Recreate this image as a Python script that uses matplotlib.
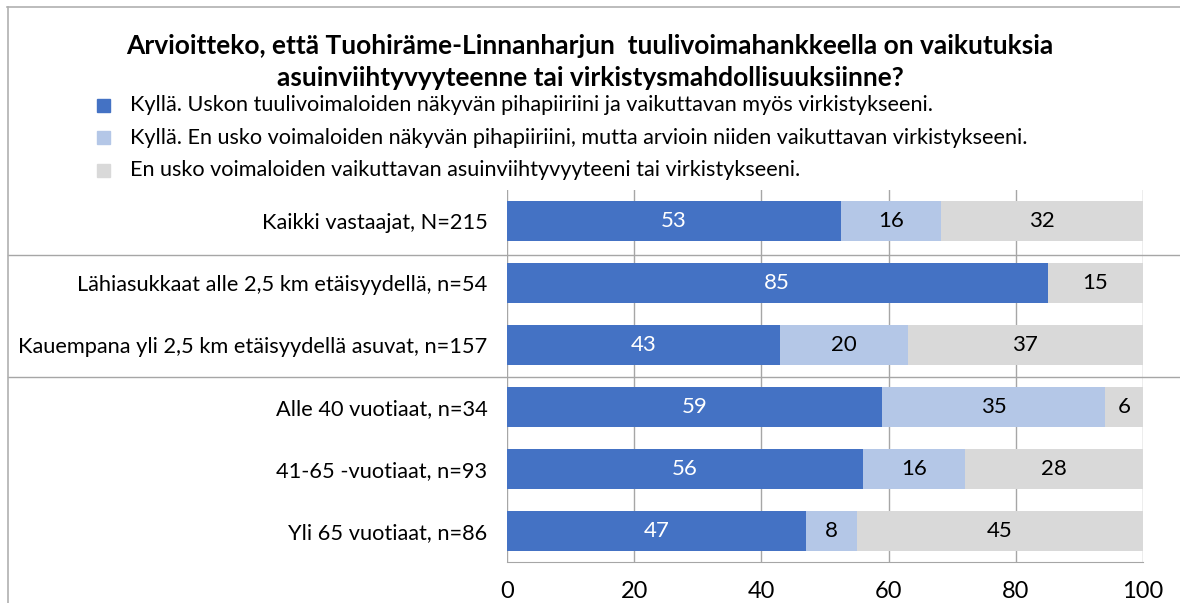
import matplotlib
matplotlib.use("Agg")
import matplotlib.pyplot as plt
from matplotlib.lines import Line2D
import numpy as np

plt.rcParams['font.family'] = ['Lato', 'DejaVu Sans']

categories = [
    "Kaikki vastaajat, N=215",
    "Lähiasukkaat alle 2,5 km etäisyydellä, n=54",
    "Kauempana yli 2,5 km etäisyydellä asuvat, n=157",
    "Alle 40 vuotiaat, n=34",
    "41-65 -vuotiaat, n=93",
    "Yli 65 vuotiaat, n=86",
]
series_names = [
    "Kyllä. Uskon tuulivoimaloiden näkyvän pihapiiriini ja vaikuttavan myös virkistykseeni.",
    "Kyllä. En usko voimaloiden näkyvän pihapiiriini, mutta arvioin niiden vaikuttavan virkistykseeni.",
    "En usko voimaloiden vaikuttavan asuinviihtyvyyteeni tai virkistykseeni.",
]
yes_visible = [53, 85, 43, 59, 56, 47]
yes_not_visible = [16, 0, 20, 35, 16, 8]
no_effect = [32, 15, 37, 6, 28, 45]
colors = ["#4472C4", "#B4C7E7", "#D9D9D9"]
text_colors = ["white", "black", "black"]
title = "Arvioitteko, että Tuohiräme-Linnanharjun  tuulivoimahankkeella on vaikutuksia\nasuinviihtyvyyteenne tai virkistysmahdollisuuksiinne?"
xticks = [0, 20, 40, 60, 80, 100]

W, H = 1180, 603
fig = plt.figure(figsize=(W / 100, H / 100), dpi=100)
ax = fig.add_axes([507 / W, 1 - 562 / H, (1143 - 507) / W, (562 - 190) / H])

data = np.array([yes_visible, yes_not_visible, no_effect], dtype=float)
totals = data.sum(axis=0)
norm = data / totals * 100
y = np.arange(len(categories))
left = np.zeros(len(categories))
for i in range(3):
    bars = ax.barh(y, norm[i], left=left, height=0.64, color=colors[i], zorder=3)
    for j, b in enumerate(bars):
        if data[i, j] > 0:
            ax.text(left[j] + norm[i, j] / 2, y[j], f"{int(data[i, j])}",
                    ha="center", va="center", fontsize=16, color=text_colors[i], zorder=4)
    left += norm[i]

ax.set_ylim(len(categories) - 0.5, -0.5)
ax.set_xlim(0, 100)
ax.set_xticks(xticks)
ax.set_xticklabels([str(t) for t in xticks], fontsize=17)
ax.tick_params(axis="x", length=0, pad=14)
ax.set_yticks(y)
ax.set_yticklabels(categories, fontsize=15.7)
ax.tick_params(axis="y", length=0, pad=14)
ax.grid(axis="x", color="#a6a6a6", linewidth=1, zorder=0)
for s in ["top", "left", "right"]:
    ax.spines[s].set_visible(False)
ax.spines["bottom"].set_color("#a6a6a6")

# group separators
trans = matplotlib.transforms.blended_transform_factory(fig.transFigure, ax.transData)
for sep in [0.55, 2.52]:
    fig.add_artist(Line2D([8 / W, 1], [sep, sep], transform=trans, color="#a6a6a6", linewidth=1))

# outer frame
fig.add_artist(Line2D([7 / W, 1], [1 - 7 / H, 1 - 7 / H], transform=fig.transFigure, color="#b0b0b0", linewidth=1.2))
fig.add_artist(Line2D([8 / W, 8 / W], [0, 1 - 7 / H], transform=fig.transFigure, color="#b0b0b0", linewidth=1.2))

fig.text(590 / W, 1 - 61.5 / H, title, ha="center", va="center", fontsize=19, fontweight="bold",
         linespacing=1.4)

# legend
for i, name in enumerate(series_names):
    yy = 1 - (105 + 32.5 * i) / H
    fig.patches.append(matplotlib.patches.Rectangle((97 / W, yy - 6.5 / H), 13 / W, 13 / H,
                                                    transform=fig.transFigure, color=colors[i]))
    fig.text(130 / W, yy, name, ha="left", va="center", fontsize=15.6)

fig.savefig("out.png", dpi=100)
